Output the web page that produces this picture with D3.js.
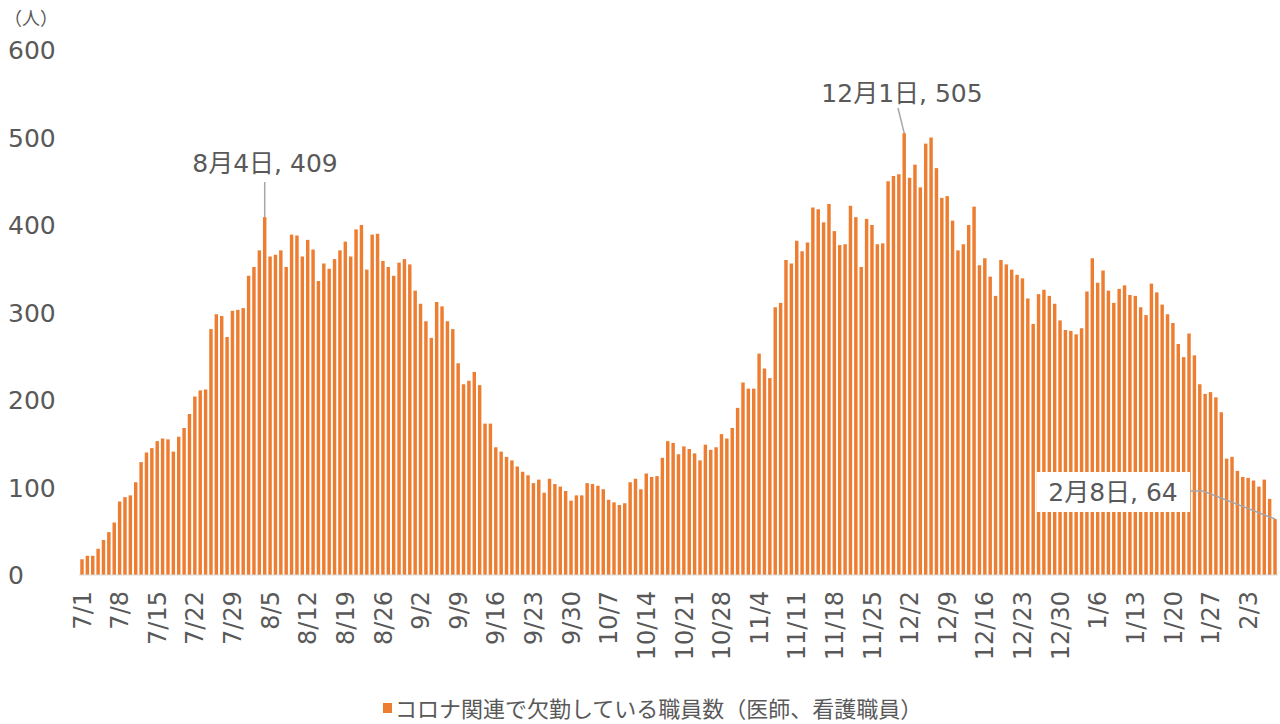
<!DOCTYPE html>
<html>
<head>
<meta charset="utf-8">
<script src="https://cdn.jsdelivr.net/npm/d3@7"></script>
<style>
  body { margin: 0; background: #fff; }
  text { font-family: "DejaVu Sans", "Noto Sans CJK JP", sans-serif; fill: #595959; }
</style>
</head>
<body>
<script>
// daily values by month
var jul = [18,22,22,30,40,49,60,84,89,91,106,129,140,145,153,156,155,141,158,168,184,204,211,212,281,298,296,272,302,303,305];
var aug = [342,352,371,409,364,366,371,352,389,388,364,383,372,336,356,350,361,371,381,364,395,400,349,389,390,359,352,342,357,361,355];
var sep = [325,310,290,271,312,307,290,281,242,218,222,232,217,173,173,146,141,135,131,124,118,114,105,109,94,110,104,101,96,85];
var oct = [91,91,105,104,102,98,86,83,80,82,106,110,98,116,112,113,134,153,151,138,147,144,139,131,149,143,146,161,156,168,191];
var nov = [220,213,213,253,236,225,306,311,360,356,382,370,380,420,418,403,424,393,377,378,422,409,352,407,400,378,379,450,456,458];
var dec = [505,454,469,443,493,500,465,431,433,405,371,378,400,421,354,362,341,319,360,355,349,343,339,316,287,321,326,319,310,291,280];
var jan = [279,275,282,324,362,334,348,325,311,327,331,320,319,306,297,333,323,309,298,288,264,249,276,251,218,207,209,203,186,133,135];
var feb = [119,112,111,108,101,109,87,64];

var tickLabels = ["7/1","7/8","7/15","7/22","7/29","8/5","8/12","8/19","8/26","9/2","9/9","9/16","9/23","9/30",
  "10/7","10/14","10/21","10/28","11/4","11/11","11/18","11/25","12/2","12/9","12/16","12/23","12/30",
  "1/6","1/13","1/20","1/27","2/3"];
var yTicks = [0,100,200,300,400,500,600];
var seriesName = "コロナ関連で欠勤している職員数（医師、看護職員）";

var values = [].concat(jul, aug, sep, oct, nov, dec, jan, feb);
var days = d3.timeDay.range(new Date(2021,6,1), new Date(2022,1,9));
var data = days.map(function(d,i){ return {date: d, label: (d.getMonth()+1)+"/"+d.getDate(), value: values[i]}; });

var width = 1280, height = 724;
var svg = d3.select("body").append("svg").attr("width", width).attr("height", height);

var x = d3.scaleBand()
  .domain(data.map(function(d){ return d.label; }))
  .range([79.3, 1277.7])
  .paddingInner(0.36).paddingOuter(0.18);

var y = d3.scaleLinear().domain([0,600]).range([575,50]);

// bars
svg.append("g").selectAll("rect")
  .data(data)
  .enter().append("rect")
  .attr("x", function(d){ return x(d.label); })
  .attr("y", function(d){ return y(d.value); })
  .attr("width", x.bandwidth())
  .attr("height", function(d){ return y(0) - y(d.value); })
  .attr("fill", "#ED7D31");

// x axis line
svg.append("line")
  .attr("x1", 79).attr("x2", 1278).attr("y1", y(0)).attr("y2", y(0))
  .attr("stroke", "#d9d9d9").attr("stroke-width", 1);

// x tick labels
svg.append("g").selectAll("text")
  .data(tickLabels)
  .enter().append("text")
  .attr("transform", function(d){ return "translate(" + (x(d) + x.bandwidth()/2) + ",591) rotate(-90)"; })
  .attr("text-anchor", "end")
  .attr("dy", "0.36em")
  .attr("font-size", 24)
  .text(function(d){ return d; });

// y tick labels
svg.append("g").selectAll("text")
  .data(yTicks)
  .enter().append("text")
  .attr("x", 8)
  .attr("y", function(d){ return y(d); })
  .attr("dy", "0.36em")
  .attr("font-size", 25)
  .text(function(d){ return d; });

svg.append("text").attr("x", 4).attr("y", 25).attr("font-size", 18).attr("fill", "#262626").text("（人）");

// annotations
function cx(label){ return x(label) + x.bandwidth()/2; }
function valOf(label){ return data.find(function(d){ return d.label === label; }).value; }

var ann = svg.append("g");
ann.append("line").attr("x1", cx("8/4")).attr("x2", cx("8/4"))
  .attr("y1", 182).attr("y2", y(valOf("8/4")))
  .attr("stroke", "#a6a6a6").attr("stroke-width", 1.5);
ann.append("text").attr("x", 265).attr("y", 172).attr("text-anchor", "middle")
  .attr("font-size", 25).text("8月4日, 409");

ann.append("line").attr("x1", 898).attr("x2", cx("12/1"))
  .attr("y1", 108).attr("y2", y(valOf("12/1")))
  .attr("stroke", "#a6a6a6").attr("stroke-width", 1.5);
ann.append("text").attr("x", 902).attr("y", 102).attr("text-anchor", "middle")
  .attr("font-size", 25).text("12月1日, 505");

ann.append("rect").attr("x", 1037).attr("y", 472).attr("width", 153).attr("height", 40).attr("fill", "#fff");
ann.append("polyline")
  .attr("points", [[1190,491],[1203,491],[cx("2/8"), y(valOf("2/8"))]].map(function(p){ return p.join(","); }).join(" "))
  .attr("fill", "none").attr("stroke", "#a6a6a6").attr("stroke-width", 1.5);
ann.append("text").attr("x", 1113).attr("y", 501).attr("text-anchor", "middle")
  .attr("font-size", 25).text("2月8日, 64");

// legend
var lg = svg.append("g");
lg.append("rect").attr("x", 383).attr("y", 703).attr("width", 9).attr("height", 10).attr("fill", "#ED7D31");
lg.append("text").attr("x", 395).attr("y", 717).attr("font-size", 22).text(seriesName);
</script>
</body>
</html>
